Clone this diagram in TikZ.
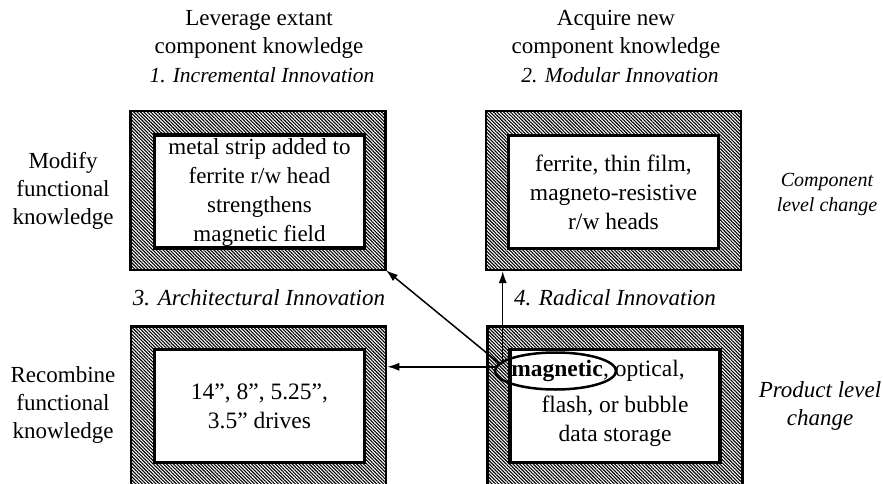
\documentclass[tikz,border=0pt]{standalone}
\usepackage{fontspec}
\setmainfont{Liberation Serif}
\usetikzlibrary{patterns.meta,arrows.meta,shapes.geometric}

\begin{document}
\begin{tikzpicture}[
    x			= 1pt,
    y			= 1pt,
    font		= \fontsize{23}{28}\selectfont,
    frame/.style	= {draw, line width=2.5pt, inner sep=0pt, minimum width=255pt, minimum height=158.5pt,
                           pattern={Lines[angle=-45,distance=2.4pt,line width=1.1pt]}},
    core/.style		= {draw, fill=white, line width=3.5pt, inner sep=0pt, minimum width=210pt, minimum height=113pt,
                           align=center, font=\fontsize{23.5}{29}\selectfont},
    lbl/.style		= {align=center},
    ital/.style		= {align=center, font=\fontsize{23}{28}\selectfont\itshape},
    small/.style	= {align=center, font=\fontsize{20}{25}\selectfont\itshape},
    link/.style		= {->, line width=1.5pt},
    >={Latex[length=12pt,width=8pt]}
  ]
\useasboundingbox (0,0) rectangle (883,-484);
% hatched frames
\node[frame] (incFrame)  at (258,-190.5)   {};
\node[frame] (modFrame)  at (613.5,-190.5) {};
\node[frame] (archFrame) at (258.5,-405.5) {};
\node[frame] (radFrame)  at (615,-405.5)   {};
% inner boxes
\node[core] (incCore)  at (259.5,-191.5) {};
\node[core] (modCore)  at (613.5,-192)   {ferrite, thin film,\\magneto-resistive\\r/w  heads};
\node[core] (archCore) at (259.5,-406)   {14”, 8”, 5.25”,\\3.5” drives};
\node[core] (radCore)  at (615,-406)     {};
\node[lbl, font=\fontsize{23}{29}\selectfont] (strip) at (259.5,-193) {metal strip added to\\ferrite r/w  head\\strengthens\\magnetic field};
% storage text with the circled word
\node[inner sep=0pt, font=\fontsize{23.5}{29}\selectfont\bfseries] (mag) at (557,-371) {magnetic};
\node[inner sep=0pt, anchor=base west, font=\fontsize{23.5}{29}\selectfont] (magRest) at (mag.base east) {, optical,};
\node[lbl, font=\fontsize{23.5}{29}\selectfont] (store) at (615,-421) {flash, or bubble\\data storage};
\node[draw, ellipse, line width=2.5pt, minimum width=121pt, minimum height=37pt, inner sep=0pt] (ring) at (555.5,-371) {};
% column heads
\node[lbl]   (leverage) at (259,-34)   {Leverage extant\\component knowledge};
\node[ital, font=\fontsize{21.5}{28}\selectfont\itshape] (incTitle) at (262,-75) {1. Incremental Innovation};
\node[lbl]   (acquire)  at (616,-34)   {Acquire new\\component knowledge};
\node[ital, font=\fontsize{21.5}{28}\selectfont\itshape] (modTitle) at (620,-75) {2. Modular Innovation};
\node[ital]  (archTitle) at (259,-298) {3. Architectural Innovation};
\node[ital]  (radTitle)  at (615,-298) {4. Radical Innovation};
% row labels
\node[lbl]   (modify)    at (63,-191)  {Modify\\functional\\knowledge};
\node[lbl]   (recombine) at (63,-405)  {Recombine\\functional\\knowledge};
\node[small] (compLevel) at (827,-195) {Component\\level change};
\node[ital]  (prodLevel) at (820,-406) {Product level\\change};
% arrows out of the circled word
\draw[link] (ring.176) -- (ring.176 -| archFrame.east);
\draw[link] (ring.172) -- (incFrame.south east);
\draw[link] (ring.169) -- (ring.169 |- modFrame.south);
%
\end{tikzpicture}
\end{document}
